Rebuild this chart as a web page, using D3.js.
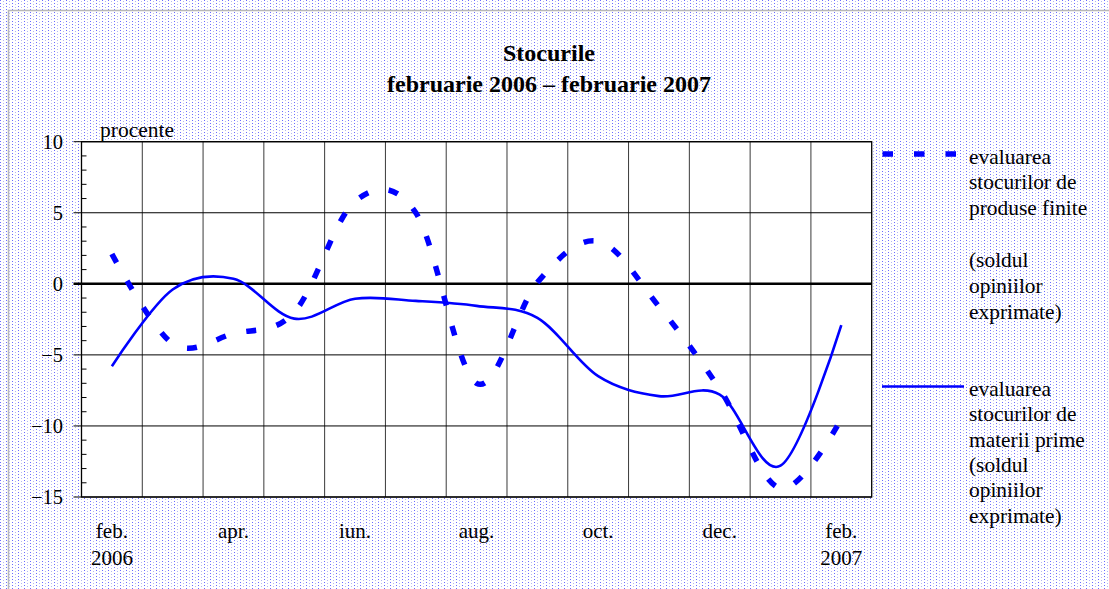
<!DOCTYPE html>
<html>
<head>
<meta charset="utf-8">
<script src="https://cdn.jsdelivr.net/npm/d3@7/dist/d3.min.js"></script>
<style>
  html, body { margin: 0; padding: 0; background: #fff; }
  svg { display: block; }
  text { font-family: "Liberation Serif", "Times New Roman", serif; fill: #000; }
</style>
</head>
<body>
<svg id="chart" width="1109" height="589"></svg>
<script>
// ---- data ----
const months = ["feb.", "mar.", "apr.", "mai", "iun.", "iul.", "aug.", "sep.", "oct.", "nov.", "dec.", "ian.", "feb."];
const years = ["2006", "", "", "", "", "", "", "", "", "", "", "", "2007"];
const finiteProducts = [2.1, -4.2, -3.5, -2.0, 5.8, 5.0, -7.0, 0.1, 3.0, -1.6, -7.4, -14.4, -9.5];
const rawMaterials = [-5.8, -0.4, 0.35, -2.45, -1.05, -1.2, -1.55, -2.4, -6.5, -7.9, -7.8, -12.8, -2.9];
const yTicks = [10, 5, 0, -5, -10, -15];
const titleLines = ["Stocurile", "februarie 2006 \u2013 februarie 2007"];
const legend1 = ["evaluarea", "stocurilor de", "produse finite", "", "(soldul", "opiniilor", "exprimate)"];
const legend2 = ["evaluarea", "stocurilor de", "materii prime", "(soldul", "opiniilor", "exprimate)"];

const svg = d3.select("#chart");
const W = 1109, H = 589;

// background pattern
const defs = svg.append("defs");
const pat = defs.append("pattern").attr("id", "dots").attr("patternUnits", "userSpaceOnUse")
  .attr("width", 6).attr("height", 3);
pat.append("rect").attr("width", 6).attr("height", 3).attr("fill", "#fff");
pat.append("rect").attr("x", 0).attr("y", 0).attr("width", 1).attr("height", 1).attr("fill", "#6b6bff");
pat.append("rect").attr("x", 3).attr("y", 1).attr("width", 1).attr("height", 1).attr("fill", "#b4b4f4");
svg.append("rect").attr("width", W).attr("height", H).attr("fill", "url(#dots)");
svg.append("path").attr("d", `M8.5,${H} V10.5 H${W}`).attr("fill", "none").attr("stroke", "#b8b8b8").attr("stroke-width", 1.5);

// plot area
const L = 81.5, R = 871.7, T = 141.7, B = 497;
const x = d3.scaleBand().domain(d3.range(months.length)).range([L, R]).paddingInner(0).paddingOuter(0);
const y = d3.scaleLinear().domain([-15, 10]).range([B, T]);
const cx = i => x(i) + x.bandwidth() / 2;

svg.append("rect").attr("x", L).attr("y", T).attr("width", R - L).attr("height", B - T).attr("fill", "#fff");

// vertical gridlines
svg.append("g").selectAll("line").data(d3.range(1, months.length)).join("line")
  .attr("x1", i => x(i)).attr("x2", i => x(i)).attr("y1", T).attr("y2", B)
  .attr("stroke", "#3a3a3a").attr("stroke-width", 1);

// horizontal gridlines
svg.append("g").selectAll("line").data(yTicks.filter(v => v !== 0)).join("line")
  .attr("x1", L - 8).attr("x2", R).attr("y1", d => y(d)).attr("y2", d => y(d))
  .attr("stroke", "#000").attr("stroke-width", 1);
svg.append("line").attr("x1", L - 8).attr("x2", R).attr("y1", y(0)).attr("y2", y(0))
  .attr("stroke", "#000").attr("stroke-width", 2.6);

// minor ticks
svg.append("g").selectAll("line").data(d3.range(-15, 11).filter(v => v % 5 !== 0)).join("line")
  .attr("x1", L).attr("x2", L + 5).attr("y1", d => y(d)).attr("y2", d => y(d))
  .attr("stroke", "#000").attr("stroke-width", 1);

// border
svg.append("rect").attr("x", L).attr("y", T).attr("width", R - L).attr("height", B - T)
  .attr("fill", "none").attr("stroke", "#000").attr("stroke-width", 1.3);

// y labels
svg.append("g").selectAll("text").data(yTicks).join("text")
  .attr("x", 63).attr("y", d => y(d)).attr("dy", "0.35em").attr("text-anchor", "end")
  .attr("font-size", 20.5).text(d => d < 0 ? "\u2212" + Math.abs(d) : d);
svg.append("text").attr("x", 100).attr("y", 137).attr("font-size", 21.5).text("procente");

// x labels
const xl = svg.append("g");
months.forEach((m, i) => {
  if (i % 2 === 0) {
    xl.append("text").attr("x", cx(i)).attr("y", 538).attr("text-anchor", "middle").attr("font-size", 21).text(m);
  }
  if (years[i]) {
    xl.append("text").attr("x", cx(i)).attr("y", 565).attr("text-anchor", "middle").attr("font-size", 21).text(years[i]);
  }
});

// lines
const line = d3.line().x((d, i) => cx(i)).y(d => y(d)).curve(d3.curveCardinal.tension(0));
svg.append("path").datum(rawMaterials).attr("d", line).attr("fill", "none")
  .attr("stroke", "#0000ff").attr("stroke-width", 2.6);
svg.append("path").datum(finiteProducts).attr("d", line).attr("fill", "none")
  .attr("stroke", "#0000ff").attr("stroke-width", 5.5).attr("stroke-dasharray", "10,21");

// title
svg.append("g").selectAll("text").data(titleLines).join("text")
  .attr("x", 549).attr("y", (d, i) => 61 + i * 30.5).attr("text-anchor", "middle")
  .attr("font-size", 24).attr("font-weight", "bold").text(d => d);

// legend
svg.append("line").attr("x1", 882.5).attr("x2", 957).attr("y1", 154).attr("y2", 154)
  .attr("stroke", "#0000ff").attr("stroke-width", 5.5).attr("stroke-dasharray", "10.5,21");
svg.append("g").selectAll("text").data(legend1).join("text")
  .attr("x", 969).attr("y", (d, i) => 163.5 + i * 25.9).attr("font-size", 21.4).text(d => d);
svg.append("line").attr("x1", 882).attr("x2", 964).attr("y1", 386.5).attr("y2", 386.5)
  .attr("stroke", "#0000ff").attr("stroke-width", 2.6);
svg.append("g").selectAll("text").data(legend2).join("text")
  .attr("x", 969).attr("y", (d, i) => 396 + i * 25.3).attr("font-size", 21.4).text(d => d);
</script>
</body>
</html>
